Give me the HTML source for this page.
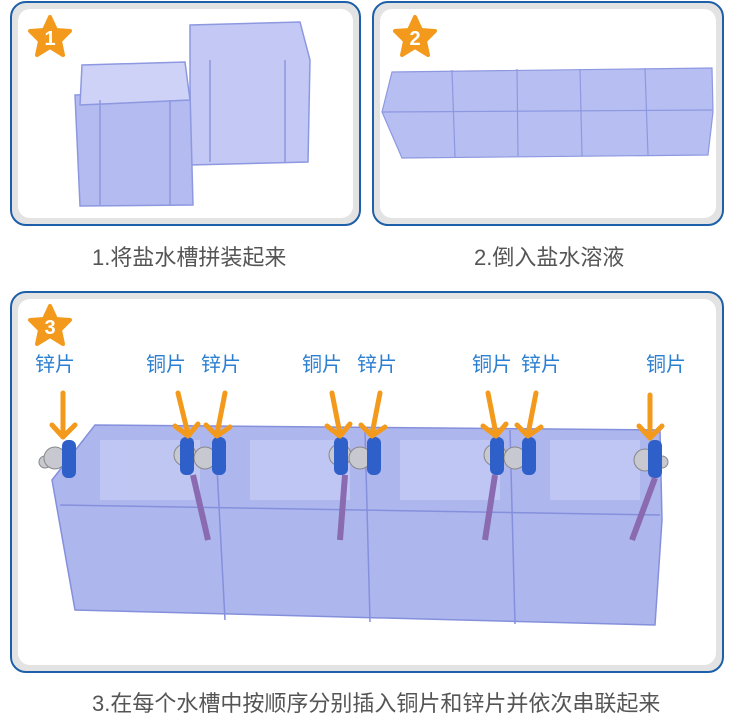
<!DOCTYPE html>
<html><head><meta charset="utf-8"><style>
body{margin:0;width:730px;height:727px;background:#fff;position:relative;overflow:hidden;font-family:"Liberation Sans","Noto Sans CJK SC",sans-serif}
.p{position:absolute;border:2px solid #1d5fa8;border-radius:16px;background:#e3e3e3;box-sizing:border-box}
.p .in{position:absolute;left:6px;top:6px;right:6px;bottom:6px;background:#fff;border-radius:12px}
.cap{position:absolute;color:#555;font-size:22px;white-space:nowrap}
.lb{position:absolute;top:348px;color:#2b7fd0;font-size:20px;white-space:nowrap}
svg{position:absolute;left:0;top:0}
</style></head><body>
<div class="p" style="left:10px;top:1px;width:351px;height:225px"><div class="in"></div></div>
<div class="p" style="left:372px;top:1px;width:352px;height:225px"><div class="in"></div></div>
<div class="p" style="left:10px;top:291px;width:714px;height:382px"><div class="in"></div></div>
<div class="cap" style="left:92px;top:240px">1.将盐水槽拼装起来</div>
<div class="cap" style="left:474px;top:240px">2.倒入盐水溶液</div>
<div class="cap" style="left:92px;top:686px">3.在每个水槽中按顺序分别插入铜片和锌片并依次串联起来</div>
<div class="lb" style="left:35px">锌片</div>
<div class="lb" style="left:146px">铜片</div>
<div class="lb" style="left:201px">锌片</div>
<div class="lb" style="left:302px">铜片</div>
<div class="lb" style="left:357px">锌片</div>
<div class="lb" style="left:472px">铜片</div>
<div class="lb" style="left:521px">锌片</div>
<div class="lb" style="left:646px">铜片</div>
<svg width="730" height="727" viewBox="0 0 730 727">
<defs>
<g id="star"><polygon points="0,-20 6,-7 20,-6 10,4 13,18 0,10 -13,18 -10,4 -20,-6 -6,-7" fill="#f39a1c" stroke="#f39a1c" stroke-width="4" stroke-linejoin="round"/></g>
</defs>
<use href="#star" x="50" y="37"/><text x="50" y="45" font-size="20" font-weight="bold" fill="#fff" text-anchor="middle" font-family="Liberation Sans">1</text>
<use href="#star" x="415" y="37"/><text x="415" y="45" font-size="20" font-weight="bold" fill="#fff" text-anchor="middle" font-family="Liberation Sans">2</text>
<use href="#star" x="50" y="326"/><text x="50" y="334" font-size="20" font-weight="bold" fill="#fff" text-anchor="middle" font-family="Liberation Sans">3</text>
<g fill="#b3bbf0" stroke="#8d98e0" stroke-width="1.5">
<path d="M190,25 L300,22 L310,60 L308,162 L190,165 Z" fill="#c3c9f4"/>
<path d="M75,95 L190,92 L193,205 L80,206 Z"/>
<path d="M82,65 L185,62 L190,100 L80,105 Z" fill="#cdd2f6"/>
<line x1="100" y1="100" x2="100" y2="205"/><line x1="170" y1="100" x2="170" y2="205"/>
<line x1="210" y1="60" x2="210" y2="162"/><line x1="285" y1="60" x2="285" y2="162"/>
</g>
<g fill="#b7bff2" stroke="#8d98e0" stroke-width="1.2">
<path d="M382,112 L392,72 L712,68 L713,112 L708,155 L402,158 Z"/>
<path d="M382,112 L713,110" fill="none"/>
<line x1="452" y1="70" x2="455" y2="157"/><line x1="517" y1="69" x2="518" y2="156"/><line x1="580" y1="69" x2="582" y2="156"/><line x1="645" y1="68" x2="648" y2="155"/>
</g>
<g fill="#aeb6ee" stroke="#8590dc" stroke-width="1.5">
<path d="M52,480 L95,425 L660,430 L662,520 L655,625 L75,610 Z"/>
<path d="M60,505 L660,515" fill="none"/>
<line x1="215" y1="430" x2="225" y2="620"/><line x1="365" y1="430" x2="370" y2="622"/><line x1="510" y1="430" x2="515" y2="624"/>
</g>
<g fill="#c8cdf5" opacity="0.7">
<rect x="100" y="440" width="100" height="60"/><rect x="250" y="440" width="100" height="60"/><rect x="400" y="440" width="100" height="60"/><rect x="550" y="440" width="90" height="60"/>
</g>
<g>
<g fill="#c8c8d0" stroke="#888"><circle cx="45" cy="462" r="6"/><circle cx="55" cy="458" r="11"/><circle cx="185" cy="455" r="11"/><circle cx="205" cy="458" r="11"/><circle cx="340" cy="455" r="11"/><circle cx="360" cy="458" r="11"/><circle cx="495" cy="455" r="11"/><circle cx="515" cy="458" r="11"/><circle cx="645" cy="460" r="11"/><circle cx="662" cy="462" r="6"/></g>
<g fill="#2f5fc8"><rect x="62" y="440" width="14" height="38" rx="6"/><rect x="180" y="437" width="14" height="38" rx="6"/><rect x="212" y="437" width="14" height="38" rx="6"/><rect x="334" y="437" width="14" height="38" rx="6"/><rect x="367" y="437" width="14" height="38" rx="6"/><rect x="490" y="437" width="14" height="38" rx="6"/><rect x="522" y="437" width="14" height="38" rx="6"/><rect x="648" y="440" width="14" height="38" rx="6"/></g>
<g stroke="#8a6ab0" stroke-width="6"><line x1="193" y1="475" x2="208" y2="540"/><line x1="345" y1="475" x2="340" y2="540"/><line x1="495" y1="475" x2="485" y2="540"/><line x1="655" y1="478" x2="632" y2="540"/></g>
</g>
<g stroke="#f39a1c" stroke-width="5" fill="none" stroke-linecap="round" stroke-linejoin="round">
<path d="M63,393 V435 M52,425 L63,437 L75,425"/>
<path d="M178,393 L188,434 M175,426 L188,436 M198,424 L188,436"/>
<path d="M225,393 L217,434 M206,425 L217,436 M230,427 L217,436"/>
<path d="M332,393 L340,434 M327,426 L340,436 M350,424 L340,436"/>
<path d="M380,393 L372,434 M361,425 L372,436 M385,427 L372,436"/>
<path d="M488,393 L496,434 M483,426 L496,436 M506,424 L496,436"/>
<path d="M536,393 L528,434 M517,425 L528,436 M541,427 L528,436"/>
<path d="M650,395 V436 M639,426 L650,438 L662,426"/>
</g>
</svg>
</body></html>
